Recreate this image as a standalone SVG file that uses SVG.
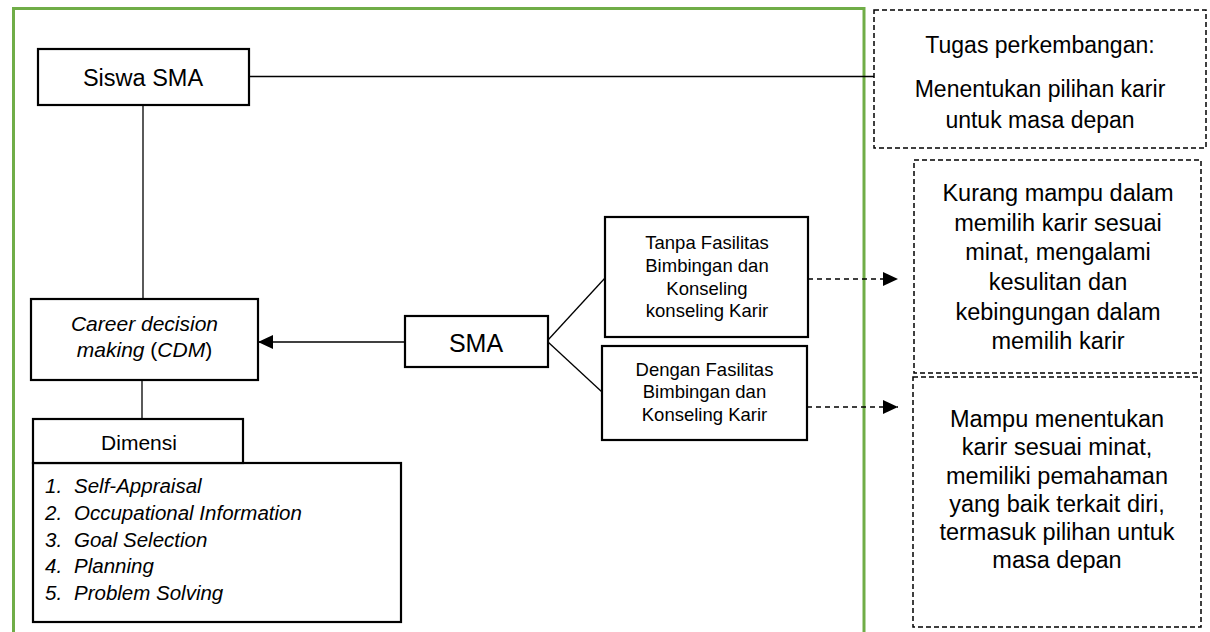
<svg xmlns="http://www.w3.org/2000/svg" width="1210" height="632" viewBox="0 0 1210 632">
<defs>
<style>
text{font-family:"Liberation Sans",Arial,sans-serif;fill:#000;text-anchor:middle}
.box{fill:#fff;stroke:#000;stroke-width:2.2}
.dbox{fill:#fff;stroke:#000;stroke-width:1.5;stroke-dasharray:5 3}
.ln{fill:none;stroke:#000;stroke-width:1.3}
.dl{fill:none;stroke:#000;stroke-width:1.5;stroke-dasharray:5 4}
.it{font-style:italic}
</style>
<marker id="ah" viewBox="0 0 15 14" refX="15" refY="7" markerWidth="15" markerHeight="14" markerUnits="userSpaceOnUse" orient="auto">
<path d="M0,0 L15,7 L0,14 Z" fill="#000"/>
</marker>
</defs>
<rect width="1210" height="632" fill="#fff"/>
<rect id="frame" x="13.5" y="8.5" width="850.5" height="640" fill="none" stroke="#70AD47" stroke-width="3"/>
<g id="connectors">
<line class="ln" x1="249" y1="76.5" x2="874" y2="76.5"/>
<line class="ln" x1="143" y1="105" x2="143" y2="299"/>
<line class="ln" x1="405" y1="342" x2="258" y2="342" marker-end="url(#ah)"/>
<line class="ln" x1="142" y1="380" x2="142" y2="419"/>
<line class="ln" x1="548" y1="340" x2="605" y2="278"/>
<line class="ln" x1="548" y1="342" x2="602" y2="392"/>
<line class="dl" x1="808" y1="279" x2="898" y2="279" marker-end="url(#ah)"/>
<line class="dl" x1="807" y1="407" x2="898" y2="407" marker-end="url(#ah)"/>
</g>
<g id="siswa">
<rect class="box" x="38" y="49" width="211" height="56"/>
<text x="143" y="86" font-size="23.5">Siswa SMA</text>
</g>
<g id="cdm">
<rect class="box" x="31" y="299" width="227" height="81"/>
<text x="144.5" y="331" font-size="21" class="it">Career decision</text>
<text x="144.5" y="357" font-size="21"><tspan class="it">making</tspan> (<tspan class="it">CDM</tspan>)</text>
</g>
<g id="dimensi">
<rect class="box" x="33" y="463" width="368" height="159"/>
<rect class="box" x="33" y="419" width="210" height="44"/>
<text x="139" y="450" font-size="21">Dimensi</text>
<g font-size="20.5" class="it">
<text x="45" y="493" style="text-anchor:start">1.</text><text x="74" y="493" style="text-anchor:start">Self-Appraisal</text>
<text x="45" y="520" style="text-anchor:start">2.</text><text x="74" y="520" style="text-anchor:start">Occupational Information</text>
<text x="45" y="546.5" style="text-anchor:start">3.</text><text x="74" y="546.5" style="text-anchor:start">Goal Selection</text>
<text x="45" y="573" style="text-anchor:start">4.</text><text x="74" y="573" style="text-anchor:start">Planning</text>
<text x="45" y="600" style="text-anchor:start">5.</text><text x="74" y="600" style="text-anchor:start">Problem Solving</text>
</g>
</g>
<g id="sma">
<rect class="box" x="405" y="316" width="143" height="51"/>
<text x="476" y="352" font-size="25">SMA</text>
</g>
<g id="tanpa">
<rect class="box" x="605" y="217" width="203" height="120"/>
<g font-size="18.5">
<text x="707" y="249">Tanpa Fasilitas</text>
<text x="707" y="272">Bimbingan dan</text>
<text x="707" y="295">Konseling</text>
<text x="707" y="317">konseling Karir</text>
</g>
</g>
<g id="dengan">
<rect class="box" x="602" y="346" width="205" height="94"/>
<g font-size="18.5">
<text x="704.5" y="376">Dengan Fasilitas</text>
<text x="704.5" y="398">Bimbingan dan</text>
<text x="704.5" y="421">Konseling Karir</text>
</g>
</g>
<g id="tugas">
<rect class="dbox" x="874" y="10" width="332" height="138"/>
<g font-size="23">
<text x="1040" y="53">Tugas perkembangan:</text>
<text x="1040" y="97">Menentukan pilihan karir</text>
<text x="1040" y="128">untuk masa depan</text>
</g>
</g>
<g id="kurang">
<rect class="dbox" x="914" y="160" width="287" height="213"/>
<g font-size="23.5">
<text x="1058" y="201">Kurang mampu dalam</text>
<text x="1058" y="230.5">memilih karir sesuai</text>
<text x="1058" y="260">minat, mengalami</text>
<text x="1058" y="290">kesulitan dan</text>
<text x="1058" y="319.5">kebingungan dalam</text>
<text x="1058" y="349">memilih karir</text>
</g>
</g>
<g id="mampu">
<rect class="dbox" x="913" y="377" width="288" height="250"/>
<g font-size="23.5">
<text x="1057" y="427">Mampu menentukan</text>
<text x="1057" y="455">karir sesuai minat,</text>
<text x="1057" y="483.5">memiliki pemahaman</text>
<text x="1057" y="511.5">yang baik terkait diri,</text>
<text x="1057" y="540">termasuk pilihan untuk</text>
<text x="1057" y="568">masa depan</text>
</g>
</g>
</svg>
